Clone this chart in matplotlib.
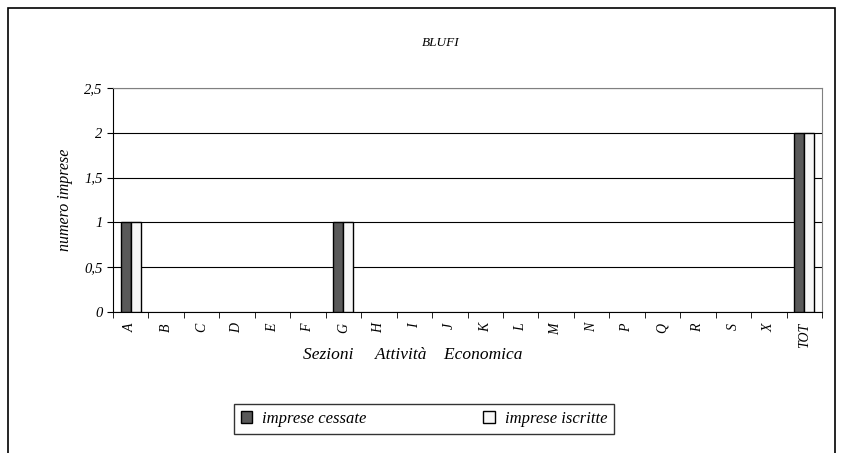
import numpy as np
import matplotlib.pyplot as plt
from matplotlib.patches import Rectangle

plt.rcParams['font.family'] = ['Liberation Serif', 'DejaVu Serif']
plt.rcParams['font.style'] = 'italic'

# dati
sezioni = ["A", "B", "C", "D", "E", "F", "G", "H", "I", "J", "K", "L",
           "M", "N", "P", "Q", "R", "S", "X", "TOT"]
cessate = [1, 0, 0, 0, 0, 0, 1, 0, 0, 0, 0, 0, 0, 0, 0, 0, 0, 0, 0, 2]
iscritte = [1, 0, 0, 0, 0, 0, 1, 0, 0, 0, 0, 0, 0, 0, 0, 0, 0, 0, 0, 2]
y_ticks = [0, 0.5, 1, 1.5, 2, 2.5]
y_labels = ["0", "0,5", "1", "1,5", "2", "2,5"]

fig = plt.figure(figsize=(8.41, 4.53), dpi=100)
ax = fig.add_axes([113 / 841, 1 - 312 / 453, 709 / 841, 224 / 453])

x = np.arange(len(sezioni))
w = 0.28
# barre a zero senza bordo
lw_c = [1 if v else 0 for v in cessate]
lw_i = [1 if v else 0 for v in iscritte]
ax.bar(x - w / 2, cessate, w, color="#595959", edgecolor="black", linewidth=lw_c,
       label="imprese cessate", zorder=3)
ax.bar(x + w / 2, iscritte, w, color="#f7f7f7", edgecolor="black", linewidth=lw_i,
       label="imprese iscritte", zorder=3)

ax.set_xlim(-0.5, len(sezioni) - 0.5)
ax.set_ylim(0, 2.5)
ax.set_yticks(y_ticks)
ax.set_yticklabels(y_labels, fontsize=10.5)
ax.set_xticks(x)
ax.set_xticklabels(sezioni, rotation=90, fontsize=10)
ax.tick_params(axis="x", length=0, pad=8)
ax.set_xticks(np.arange(len(sezioni) + 1) - 0.5, minor=True)
ax.tick_params(axis="x", which="minor", length=4, direction="out", color="black")
ax.tick_params(axis="y", length=4, direction="out")
ax.grid(axis="y", color="black", linewidth=0.8, zorder=0)

ax.spines["top"].set_color("#808080")
ax.spines["right"].set_color("#808080")
ax.spines["left"].set_color("black")
ax.spines["bottom"].set_color("black")

ax.set_ylabel("numero imprese", fontsize=11.5, labelpad=8)
fig.text(413 / 841, 1 - 355 / 453, "Sezioni     Attività    Economica",
         fontsize=12.5, ha="center", va="center")
fig.text(441 / 841, 1 - 43 / 453, "BLUFI", fontsize=9.5, ha="center", va="center")

fig.legend(loc="center", bbox_to_anchor=(424 / 841, 1 - 419 / 453), ncol=2,
           fontsize=12, frameon=True, fancybox=False, edgecolor="black",
           handlelength=0.7, handleheight=0.7, columnspacing=7, borderpad=0.4,
           borderaxespad=0, handletextpad=0.6)
leg = fig.legends[0]
leg.get_frame().set_linewidth(1)

fig.patches.append(Rectangle((8 / 841, -0.05), 827 / 841, 1.05 - 8 / 453,
                             transform=fig.transFigure, fill=False,
                             edgecolor="black", linewidth=1.2))

fig.savefig("out.png", dpi=100)
